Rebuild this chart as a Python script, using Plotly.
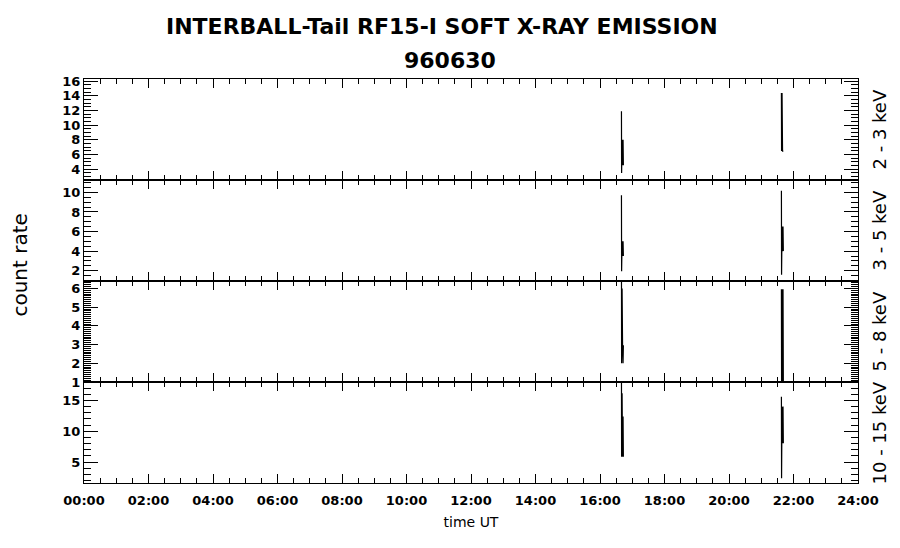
import plotly.graph_objects as go
from plotly.subplots import make_subplots

# ---- data ----
panel_labels = ["2 - 3 keV", "3 - 5 keV", "5 - 8 keV", "10 - 15 keV"]
time_hours = [16.665, 16.670, 16.685, 16.700, 16.715, 16.725, None,
              21.625, 21.630, 21.645, 21.660, 21.675, 21.685]
rate_2_3 = [11.9, 3.45, 8.0, 4.5, 8.0, 4.5, None,
            14.4, 6.45, 14.4, 6.45, 6.45, 6.45]
rate_3_5 = [9.7, 1.94, 5.0, 3.5, 5.0, 3.5, None,
            10.16, 1.6, 6.5, 4.0, 6.5, 4.0]
rate_5_8 = [7.5, 2.0, 6.0, 2.96, 2.0, 2.96, None,
            5.96, 1.0, 5.96, 1.0, 5.96, 1.0]
rate_10_15 = [20.0, 5.87, 16.16, 5.87, 12.4, 5.87, None,
              15.6, 2.36, 14.0, 8.05, 14.0, 8.05]
series = [rate_2_3, rate_3_5, rate_5_8, rate_10_15]

y_ranges = [[2.5, 16.3], [0.95, 11.26], [1.0, 6.4], [1.6, 18.0]]
y_major = [2, 2, 1, 5]
y_minor = [0.5, 0.5, 0.1, 1]

x_tickvals = list(range(0, 25, 2))
x_ticktext = ["%02d:00" % h for h in x_tickvals]

FONT = "DejaVu Sans"

fig = make_subplots(rows=4, cols=1, shared_xaxes=True, vertical_spacing=0)

for i, vals in enumerate(series):
    fig.add_trace(go.Scatter(x=time_hours, y=vals, mode="lines",
                             line=dict(color="black", width=1.2),
                             connectgaps=False, showlegend=False,
                             hoverinfo="skip"), row=i + 1, col=1)
    fig.update_yaxes(row=i + 1, col=1,
                     range=y_ranges[i], tick0=0, dtick=y_major[i],
                     ticks="inside", ticklen=14, tickwidth=1, tickcolor="black",
                     minor=dict(ticks="inside", ticklen=7, dtick=y_minor[i], tick0=0,
                                tickcolor="black", tickwidth=1, showgrid=False),
                     showline=True, linecolor="black", linewidth=1, mirror="allticks",
                     showgrid=False, zeroline=False,
                     tickfont=dict(family=FONT, size=13, color="black", weight="bold"))
    fig.update_xaxes(row=i + 1, col=1,
                     range=[0, 24], tickvals=x_tickvals, ticktext=x_ticktext,
                     ticks="inside", ticklen=9, tickwidth=1, tickcolor="black",
                     minor=dict(ticks="inside", ticklen=5, dtick=0.5, tick0=0,
                                tickcolor="black", tickwidth=1, showgrid=False),
                     showline=True, linecolor="black", linewidth=1, mirror="allticks",
                     showgrid=False, zeroline=False,
                     showticklabels=(i == 3),
                     tickfont=dict(family=FONT, size=13, color="black", weight="bold"))

fig.update_xaxes(row=4, col=1, ticklabelstandoff=5,
                 title=dict(text="time UT", font=dict(family=FONT, size=14, color="black"),
                            standoff=10))

annotations = []
n = len(panel_labels)
for i, lab in enumerate(panel_labels):
    yc = 1 - (i + 0.5) / n
    annotations.append(dict(text=lab, xref="paper", yref="paper", x=1.0284, y=yc,
                            xanchor="center", yanchor="middle", textangle=-90,
                            showarrow=False,
                            font=dict(family=FONT, size=18, color="black")))
annotations.append(dict(text="count rate", xref="paper", yref="paper", x=-0.083, y=0.54,
                        xanchor="center", yanchor="middle", textangle=-90, showarrow=False,
                        font=dict(family=FONT, size=20, color="black")))
annotations.append(dict(text="<b>INTERBALL-Tail RF15-I SOFT X-RAY EMISSION</b>",
                        xref="paper", yref="paper", x=(442 - 84) / 774, y=1 + (79 - 27) / 404,
                        xanchor="center", yanchor="middle", showarrow=False,
                        font=dict(family=FONT, size=22, color="black")))
annotations.append(dict(text="<b>960630</b>",
                        xref="paper", yref="paper", x=(450 - 84) / 774, y=1 + (79 - 61) / 404,
                        xanchor="center", yanchor="middle", showarrow=False,
                        font=dict(family=FONT, size=22, color="black")))

# page body has an 8px margin: figure is 892x540 placed at (8, 8)
fig.update_layout(width=892, height=540,
                  margin=dict(l=76, r=42, t=71, b=65),
                  paper_bgcolor="white", plot_bgcolor="white",
                  annotations=annotations,
                  font=dict(family=FONT, color="black"))

fig.write_html("out.html")
